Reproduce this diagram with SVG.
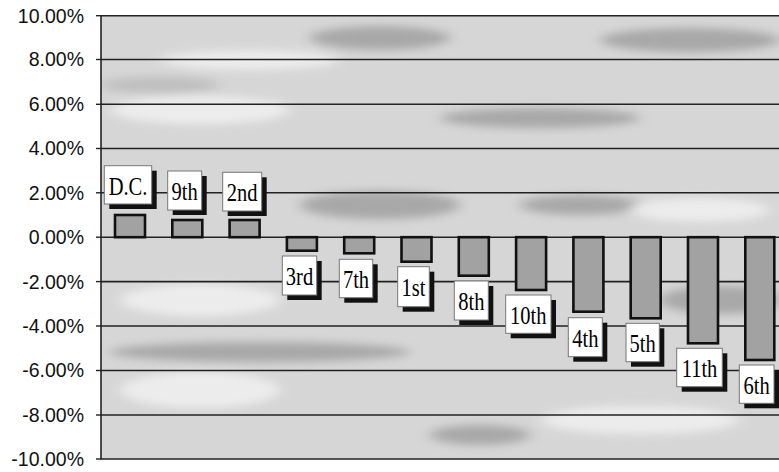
<svg xmlns="http://www.w3.org/2000/svg" width="779" height="472" viewBox="0 0 779 472">
<defs>
<style>
.ax{font-family:"Liberation Sans",Arial,sans-serif;font-size:19.5px;fill:#111;text-anchor:end}
.grid{stroke:#222;stroke-width:1.6;fill:none}
.tick{stroke:#222;stroke-width:1.4}
.bar{fill:#a2a2a2;stroke:#111;stroke-width:2.6}
.box{fill:#fff;stroke:#777;stroke-width:1}
.sh{fill:#111}
.lbl{font-family:"Liberation Serif","Times New Roman",serif;font-size:20.5px;fill:#000;text-anchor:middle}
.blob{fill:#8a8a8a}
.lite{fill:#f2f2f2}
</style>
<filter id="bl" x="-50%" y="-200%" width="200%" height="500%"><feGaussianBlur stdDeviation="7 4"/></filter>
<clipPath id="plot"><rect x="101" y="16" width="678" height="443"/></clipPath>
</defs>
<rect width="779" height="472" fill="#fff"/>
<g id="plot-bg" clip-path="url(#plot)">
<rect x="101" y="16" width="678" height="443" fill="#d6d6d6"/>
<g filter="url(#bl)" opacity="0.6">
<ellipse class="blob" cx="380" cy="38" rx="70" ry="12"/>
<ellipse class="blob" cx="690" cy="40" rx="90" ry="12"/>
<ellipse class="blob" cx="540" cy="118" rx="100" ry="10"/>
<ellipse class="blob" cx="380" cy="205" rx="80" ry="14"/>
<ellipse class="blob" cx="580" cy="205" rx="60" ry="10"/>
<ellipse class="blob" cx="260" cy="352" rx="150" ry="10"/>
<ellipse class="blob" cx="480" cy="435" rx="50" ry="10"/>
<ellipse class="blob" cx="720" cy="300" rx="60" ry="14"/>
<ellipse class="blob" cx="160" cy="85" rx="60" ry="8" opacity="0.5"/>
</g>
<g filter="url(#bl)" opacity="0.8">
<ellipse class="lite" cx="200" cy="110" rx="90" ry="14"/>
<ellipse class="lite" cx="200" cy="300" rx="80" ry="16"/>
<ellipse class="lite" cx="200" cy="390" rx="80" ry="18"/>
<ellipse class="lite" cx="640" cy="420" rx="100" ry="14"/>
<ellipse class="lite" cx="700" cy="210" rx="70" ry="12"/>
<ellipse class="lite" cx="250" cy="60" rx="90" ry="10"/>
</g>
</g>
<g id="grid">
<line class="grid" x1="101" y1="15.7" x2="779" y2="15.7"/>
<line class="grid" x1="101" y1="59.5" x2="779" y2="59.5"/>
<line class="grid" x1="101" y1="104.3" x2="779" y2="104.3"/>
<line class="grid" x1="101" y1="148.5" x2="779" y2="148.5"/>
<line class="grid" x1="101" y1="192.8" x2="779" y2="192.8"/>
<line class="grid" x1="101" y1="237.2" x2="779" y2="237.2"/>
<line class="grid" x1="101" y1="281.6" x2="779" y2="281.6"/>
<line class="grid" x1="101" y1="326" x2="779" y2="326"/>
<line class="grid" x1="101" y1="370.5" x2="779" y2="370.5"/>
<line class="grid" x1="101" y1="415" x2="779" y2="415"/>
<line class="grid" x1="101" y1="459" x2="779" y2="459"/>
<line class="grid" x1="101" y1="15" x2="101" y2="459.5"/>
<line class="tick" x1="96" y1="15.7" x2="101" y2="15.7"/>
<line class="tick" x1="96" y1="59.5" x2="101" y2="59.5"/>
<line class="tick" x1="96" y1="104.3" x2="101" y2="104.3"/>
<line class="tick" x1="96" y1="148.5" x2="101" y2="148.5"/>
<line class="tick" x1="96" y1="192.8" x2="101" y2="192.8"/>
<line class="tick" x1="96" y1="237.2" x2="101" y2="237.2"/>
<line class="tick" x1="96" y1="281.6" x2="101" y2="281.6"/>
<line class="tick" x1="96" y1="326" x2="101" y2="326"/>
<line class="tick" x1="96" y1="370.5" x2="101" y2="370.5"/>
<line class="tick" x1="96" y1="415" x2="101" y2="415"/>
<line class="tick" x1="96" y1="459" x2="101" y2="459"/>
</g>
<g id="y-axis">
<text class="ax" x="84" y="22.5">10.00%</text>
<text class="ax" x="84" y="66">8.00%</text>
<text class="ax" x="84" y="111">6.00%</text>
<text class="ax" x="84" y="155">4.00%</text>
<text class="ax" x="84" y="199.5">2.00%</text>
<text class="ax" x="84" y="244">0.00%</text>
<text class="ax" x="84" y="288.5">-2.00%</text>
<text class="ax" x="84" y="332.5">-4.00%</text>
<text class="ax" x="84" y="377">-6.00%</text>
<text class="ax" x="84" y="421.5">-8.00%</text>
<text class="ax" x="84" y="466">-10.00%</text>
</g>
<g id="connectors"></g>
<g id="n-dc">
<rect class="bar" x="115" y="215" width="30" height="22.2"/>
<rect class="sh" x="109.3" y="170.7" width="47.4" height="38.3"/>
<rect class="box" x="104.3" y="165.7" width="47.4" height="38.3"/>
<text class="lbl" transform="translate(128,194.5) scale(1,1.25)">D.C.</text>
</g>
<g id="n-9th">
<rect class="bar" x="172.3" y="220" width="30" height="17.2"/>
<rect class="sh" x="172.7" y="176" width="34" height="39"/>
<rect class="box" x="167.7" y="171" width="34" height="39"/>
<text class="lbl" transform="translate(184.7,200) scale(1,1.25)">9th</text>
</g>
<g id="n-2nd">
<rect class="bar" x="229.6" y="220" width="30" height="17.2"/>
<rect class="sh" x="227.7" y="177.3" width="39" height="38.7"/>
<rect class="box" x="222.7" y="172.3" width="39" height="38.7"/>
<text class="lbl" transform="translate(242.2,201.3) scale(1,1.25)">2nd</text>
</g>
<g id="n-3rd">
<rect class="bar" x="286.9" y="237.2" width="30" height="13.5"/>
<rect class="sh" x="287.3" y="261" width="34.4" height="39"/>
<rect class="box" x="282.3" y="256" width="34.4" height="39"/>
<text class="lbl" transform="translate(299.5,285) scale(1,1.25)">3rd</text>
</g>
<g id="n-7th">
<rect class="bar" x="344.2" y="237.2" width="30" height="16.1"/>
<rect class="sh" x="344.3" y="264.3" width="33.4" height="38.4"/>
<rect class="box" x="339.3" y="259.3" width="33.4" height="38.4"/>
<text class="lbl" transform="translate(356,288.3) scale(1,1.25)">7th</text>
</g>
<g id="n-1st">
<rect class="bar" x="401.5" y="237.2" width="30" height="24.5"/>
<rect class="sh" x="402.7" y="271.7" width="31.6" height="40"/>
<rect class="box" x="397.7" y="266.7" width="31.6" height="40"/>
<text class="lbl" transform="translate(413.5,296.2) scale(1,1.25)">1st</text>
</g>
<g id="n-8th">
<rect class="bar" x="458.8" y="237.2" width="30" height="38.5"/>
<rect class="sh" x="459.3" y="286" width="34" height="39"/>
<rect class="box" x="454.3" y="281" width="34" height="39"/>
<text class="lbl" transform="translate(471.3,310) scale(1,1.25)">8th</text>
</g>
<g id="n-10th">
<rect class="bar" x="516.1" y="237.2" width="30" height="52.8"/>
<rect class="sh" x="510.7" y="300" width="45.3" height="38.3"/>
<rect class="box" x="505.7" y="295" width="45.3" height="38.3"/>
<text class="lbl" transform="translate(528.3,324) scale(1,1.25)">10th</text>
</g>
<g id="n-4th">
<rect class="bar" x="573.4" y="237.2" width="30" height="74.5"/>
<rect class="sh" x="573.3" y="322.7" width="34" height="39"/>
<rect class="box" x="568.3" y="317.7" width="34" height="39"/>
<text class="lbl" transform="translate(585.3,346.7) scale(1,1.25)">4th</text>
</g>
<g id="n-5th">
<rect class="bar" x="630.7" y="237.2" width="30" height="81.1"/>
<rect class="sh" x="631" y="328.3" width="33.3" height="38.4"/>
<rect class="box" x="626" y="323.3" width="33.3" height="38.4"/>
<text class="lbl" transform="translate(642.7,352.3) scale(1,1.25)">5th</text>
</g>
<g id="n-11th">
<rect class="bar" x="688" y="237.2" width="30" height="106.1"/>
<rect class="sh" x="681.7" y="353.3" width="45.6" height="38.4"/>
<rect class="box" x="676.7" y="348.3" width="45.6" height="38.4"/>
<text class="lbl" transform="translate(699.5,377.3) scale(1,1.25)">11th</text>
</g>
<g id="n-6th">
<rect class="bar" x="745.3" y="237.2" width="29" height="122.8"/>
<rect class="sh" x="744.3" y="370" width="34.7" height="38.3"/>
<rect class="box" x="739.3" y="365" width="34.7" height="38.3"/>
<text class="lbl" transform="translate(756.7,394) scale(1,1.25)">6th</text>
</g>
</svg>
